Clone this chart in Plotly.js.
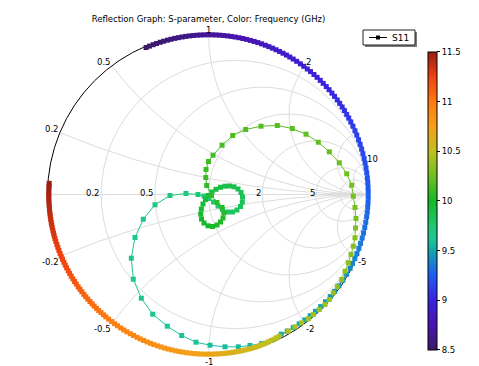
<!DOCTYPE html>
<html><head><meta charset="utf-8">
<script src="https://cdn.plot.ly/plotly-3.0.1.min.js"></script>
<style>html,body{margin:0;padding:0;background:#fff}#chart{width:479px;height:366px}</style>
</head><body><div id="chart"></div>
<script>
// ---- Data: S11 reflection coefficient vs frequency (GHz) ----
// Edge segment A: magnitude / phase (deg)
const freqA=[8.5,8.51,8.52,8.53,8.54,8.55,8.56,8.57,8.58,8.59,8.6,8.61,8.62,8.63,8.64,8.65,8.66,8.67,8.68,8.69,8.7,8.71,8.72,8.73,8.74,8.75,8.76,8.77,8.78,8.79,8.8,8.81,8.82,8.83,8.84,8.85,8.86,8.87,8.88,8.89,8.9,8.91,8.92,8.93,8.94,8.95,8.96,8.97,8.98,8.99,9.0,9.01,9.02,9.03,9.04,9.05,9.06,9.07,9.08,9.09,9.1,9.11,9.12,9.13,9.14,9.15,9.16,9.17,9.18,9.19,9.2,9.21,9.22,9.23,9.24,9.25,9.26,9.27,9.28,9.29,9.3,9.31,9.32,9.33,9.34,9.35,9.36,9.37,9.38,9.39,9.4,9.41,9.42,9.43,9.44,9.45,9.46,9.47,9.48,9.49,9.5,9.51,9.52,9.53,9.54];
const magA=[0.992,0.992,0.992,0.992,0.992,0.992,0.992,0.992,0.992,0.992,0.992,0.992,0.992,0.992,0.992,0.992,0.992,0.992,0.992,0.992,0.992,0.992,0.992,0.992,0.992,0.992,0.992,0.992,0.992,0.992,0.992,0.992,0.992,0.992,0.992,0.992,0.992,0.992,0.992,0.992,0.992,0.992,0.992,0.992,0.992,0.992,0.992,0.992,0.992,0.992,0.992,0.992,0.992,0.992,0.992,0.992,0.992,0.992,0.992,0.992,0.992,0.992,0.992,0.992,0.992,0.992,0.992,0.992,0.992,0.992,0.992,0.992,0.992,0.992,0.992,0.992,0.992,0.992,0.992,0.992,0.992,0.992,0.992,0.992,0.992,0.992,0.992,0.992,0.992,0.992,0.992,0.991,0.990,0.989,0.988,0.987,0.986,0.985,0.984,0.983,0.982,0.981,0.980,0.979,0.978];
const phaseA=[113.0,111.7,110.3,109.0,107.6,106.3,104.9,103.6,102.2,100.9,99.5,98.2,96.8,95.5,94.1,92.8,91.4,90.1,88.7,87.4,86.0,84.6,83.2,81.8,80.4,79.0,77.6,76.2,74.8,73.4,72.0,70.6,69.2,67.8,66.4,65.0,63.6,62.2,60.8,59.4,58.0,56.5,54.9,53.4,51.8,50.3,48.7,47.2,45.6,44.1,42.5,41.0,39.4,37.9,36.3,34.8,33.2,31.7,30.1,28.6,27.0,25.3,23.5,21.8,20.0,18.3,16.5,14.8,13.0,11.3,9.5,7.8,6.0,4.3,2.5,0.8,-1.0,-2.8,-4.5,-6.3,-8.0,-10.0,-11.9,-13.9,-15.8,-17.8,-19.7,-21.7,-23.6,-25.6,-27.5,-30.0,-32.5,-35.0,-37.5,-40.0,-42.5,-45.0,-47.5,-50.0,-52.5,-55.0,-57.5,-60.0,-62.5];
// Inner segment B: real / imaginary part of S11
const freqB=[9.55,9.56,9.57,9.58,9.59,9.6,9.61,9.62,9.63,9.64,9.65,9.66,9.67,9.68,9.69,9.7,9.71,9.72,9.73];
const reB=[0.3925,0.3304,0.2578,0.1851,0.1025,0.0093,-0.0776,-0.1665,-0.2559,-0.3466,-0.4174,-0.4671,-0.4795,-0.4565,-0.4050,-0.3323,-0.2391,-0.1398,-0.0652];
const imB=[-0.9068,-0.9255,-0.9379,-0.9460,-0.9460,-0.9360,-0.9174,-0.8758,-0.8180,-0.7435,-0.6441,-0.5261,-0.3957,-0.2671,-0.1534,-0.0640,-0.0062,0.0062,0.0000];
// Resonance loop
const freqLoop=[9.74,9.75,9.76,9.77,9.78,9.79,9.8,9.81,9.82,9.83,9.84,9.85,9.86,9.87,9.88,9.89,9.9,9.91,9.92,9.93,9.94,9.95,9.96,9.97,9.98,9.99,10.0,10.01,10.02,10.03,10.04,10.05,10.06,10.07,10.08];
const reLoop=[-0.0280,0.0031,0.0311,0.0590,0.0870,0.1180,0.1491,0.1770,0.1988,0.2099,0.2112,0.2019,0.1832,0.1584,0.1304,0.1025,0.0745,0.0466,0.0217,0.0000,-0.0186,-0.0342,-0.0447,-0.0484,-0.0435,-0.0280,-0.0031,0.0248,0.0528,0.0745,0.0901,0.0950,0.0839,0.0528,0.0186];
const imLoop=[-0.0093,-0.0248,-0.0466,-0.0714,-0.0932,-0.1087,-0.1087,-0.0963,-0.0745,-0.0466,-0.0155,0.0124,0.0342,0.0478,0.0528,0.0516,0.0447,0.0323,0.0155,-0.0062,-0.0311,-0.0590,-0.0901,-0.1211,-0.1522,-0.1770,-0.1944,-0.1988,-0.1894,-0.1708,-0.1460,-0.1149,-0.0807,-0.0497,-0.0062];
// Inner segment C
const freqC=[10.09,10.1,10.11,10.12,10.13,10.14,10.15,10.16,10.17,10.18,10.19,10.2,10.21,10.22,10.23,10.24,10.25,10.26,10.27,10.28,10.29,10.3,10.31,10.32,10.33,10.34,10.35,10.36,10.37,10.38,10.39,10.4,10.41,10.42,10.43,10.44,10.45];
const reC=[-0.0112,-0.0168,-0.0155,0.0000,0.0280,0.0839,0.1503,0.2311,0.3261,0.4273,0.5205,0.6056,0.6820,0.7503,0.8124,0.8584,0.8894,0.8994,0.9099,0.9161,0.9130,0.9099,0.8994,0.8851,0.8683,0.8478,0.8273,0.8000,0.7752,0.7503,0.7236,0.6882,0.6509,0.6199,0.5789,0.5373,0.4957];
const imC=[0.0559,0.1056,0.1553,0.2050,0.2441,0.3062,0.3665,0.4037,0.4242,0.4286,0.4099,0.3745,0.3248,0.2652,0.1969,0.1286,0.0578,-0.0106,-0.0807,-0.1491,-0.2081,-0.2689,-0.3211,-0.3727,-0.4242,-0.4764,-0.5280,-0.5733,-0.6106,-0.6522,-0.6832,-0.7143,-0.7453,-0.7720,-0.7969,-0.8217,-0.8491];
// Edge segment D: magnitude / phase (deg)
const freqD=[10.46,10.47,10.48,10.49,10.5,10.51,10.52,10.53,10.54,10.55,10.56,10.57,10.58,10.59,10.6,10.61,10.62,10.63,10.64,10.65,10.66,10.67,10.68,10.69,10.7,10.71,10.72,10.73,10.74,10.75,10.76,10.77,10.78,10.79,10.8,10.81,10.82,10.83,10.84,10.85,10.86,10.87,10.88,10.89,10.9,10.91,10.92,10.93,10.94,10.95,10.96,10.97,10.98,10.99,11.0,11.01,11.02,11.03,11.04,11.05,11.06,11.07,11.08,11.09,11.1,11.11,11.12,11.13,11.14,11.15,11.16,11.17,11.18,11.19,11.2,11.21,11.22,11.23,11.24,11.25,11.26,11.27,11.28,11.29,11.3,11.31,11.32,11.33,11.34,11.35,11.36,11.37,11.38,11.39,11.4,11.41,11.42,11.43,11.44,11.45,11.46,11.47,11.48,11.49,11.5];
const magD=[0.984,0.985,0.986,0.987,0.988,0.989,0.990,0.991,0.992,0.992,0.992,0.992,0.992,0.992,0.992,0.992,0.992,0.992,0.992,0.992,0.992,0.992,0.992,0.992,0.992,0.992,0.992,0.992,0.992,0.992,0.992,0.992,0.992,0.992,0.992,0.992,0.992,0.992,0.992,0.992,0.992,0.992,0.992,0.992,0.992,0.992,0.992,0.992,0.992,0.992,0.992,0.992,0.992,0.992,0.992,0.992,0.992,0.992,0.992,0.992,0.992,0.992,0.992,0.992,0.992,0.992,0.992,0.992,0.992,0.992,0.992,0.992,0.992,0.992,0.992,0.992,0.992,0.992,0.992,0.992,0.992,0.992,0.992,0.992,0.992,0.992,0.992,0.992,0.992,0.992,0.992,0.992,0.992,0.992,0.992,0.992,0.992,0.992,0.992,0.992,0.992,0.992,0.992,0.992,0.992];
const phaseD=[-63.5,-64.6,-65.7,-66.8,-67.9,-69.0,-70.1,-71.2,-72.3,-73.4,-74.5,-75.6,-76.7,-77.8,-78.9,-80.0,-81.1,-82.2,-83.3,-84.4,-85.5,-86.6,-87.7,-88.8,-89.9,-91.2,-92.6,-93.9,-95.2,-96.6,-97.9,-99.3,-100.6,-101.9,-103.3,-104.6,-105.9,-107.3,-108.6,-110.0,-111.3,-112.6,-114.0,-115.3,-116.6,-118.0,-119.3,-120.7,-122.0,-123.3,-124.7,-126.0,-127.3,-128.7,-130.0,-131.1,-132.3,-133.4,-134.5,-135.7,-136.8,-137.9,-139.1,-140.2,-141.3,-142.5,-143.6,-144.7,-145.9,-147.0,-148.1,-149.3,-150.4,-151.5,-152.7,-153.8,-154.9,-156.1,-157.2,-158.3,-159.5,-160.6,-161.7,-162.9,-164.0,-165.0,-166.0,-167.0,-168.0,-169.0,-170.0,-171.0,-172.0,-173.0,-174.0,-175.0,-176.0,-177.0,-178.0,-179.0,-180.0,-181.0,-182.0,-183.0,-184.0];

const colorTicks=[8.5,9,9.5,10,10.5,11,11.5];
const colorTickText=['8.5','9','9.5','10','10.5','11','11.5'];
const realGrid=[0.2,0.5,1,2,5,10];
const imagGrid=[-10,-5,-2,-1,-0.5,-0.2,0.2,0.5,1,2,5,10];
const realLabelVals=[0.2,0.5,2,5];
const realLabelText=['0.2','0.5','2','5'];
const imagLabelVals=[0.2,0.5,1,2,10,-0.2,-0.5,-1,-2,-5];
const imagLabelText=['0.2','0.5','1','2','10','-0.2','-0.5','-1','-2','-5'];
const seriesName='S11';
const chartTitle='Reflection Graph: S-parameter, Color: Frequency (GHz)';

// ---- Assemble ----
const freq=[], gRe=[], gIm=[];
function addPolar(f,m,p){for(let i=0;i<f.length;i++){const a=p[i]*Math.PI/180;freq.push(f[i]);gRe.push(m[i]*Math.cos(a));gIm.push(m[i]*Math.sin(a));}}
function addCart(f,r,im){for(let i=0;i<f.length;i++){freq.push(f[i]);gRe.push(r[i]);gIm.push(im[i]);}}
addPolar(freqA,magA,phaseA);
addCart(freqB,reB,imB);
addCart(freqLoop,reLoop,imLoop);
addCart(freqC,reC,imC);
addPolar(freqD,magD,phaseD);
// reflection coefficient -> normalized impedance
const zr=[], zi=[];
for(let i=0;i<freq.length;i++){const u=gRe[i],v=gIm[i];const d=(1-u)*(1-u)+v*v;zr.push((1-u*u-v*v)/d);zi.push(2*v/d);}

const cmin=8.5,cmax=11.5;
const cs=[[0,'#3b1a66'],[0.083,'#4814b0'],[0.167,'#3a22e0'],[0.25,'#1e5cf5'],[0.333,'#12a6ac'],[0.375,'#1cc698'],[0.417,'#20c870'],[0.5,'#14b828'],[0.583,'#70c020'],[0.667,'#c0c020'],[0.75,'#f5a018'],[0.833,'#ff7a10'],[0.917,'#f04010'],[1,'#9a1c14']];
function hex(c){return [parseInt(c.substr(1,2),16),parseInt(c.substr(3,2),16),parseInt(c.substr(5,2),16)];}
function colorAt(f){let t=(f-cmin)/(cmax-cmin);t=Math.max(0,Math.min(1,t));for(let k=1;k<cs.length;k++){if(t<=cs[k][0]){const a=hex(cs[k-1][1]),b=hex(cs[k][1]);const s=(t-cs[k-1][0])/(cs[k][0]-cs[k-1][0]);return 'rgb('+a.map((x,j)=>Math.round(x+(b[j]-x)*s)).join(',')+')';}}return cs[cs.length-1][1];}

const traces=[];
for(let i=0;i<freq.length-1;i++){
  traces.push({type:'scattersmith',real:[zr[i],zr[i+1]],imag:[zi[i],zi[i+1]],mode:'lines',line:{color:colorAt((freq[i]+freq[i+1])/2),width:1},showlegend:false,hoverinfo:'skip'});
}
traces.push({type:'scattersmith',real:zr,imag:zi,mode:'markers',name:seriesName,showlegend:false,
  marker:{symbol:'square',size:5,color:freq,colorscale:cs,cmin:cmin,cmax:cmax,line:{width:0},
    colorbar:{x:428/479,xanchor:'left',y:0.451,yanchor:'middle',len:298/366,lenmode:'fraction',thickness:9,xpad:0,ypad:0,
      outlinewidth:1,outlinecolor:'#000',tickvals:colorTicks,ticktext:colorTickText,ticks:'outside',ticklen:3,tickcolor:'#000',
      tickfont:{family:'DejaVu Sans',size:8.5,color:'#000'}}}});

const W=479,H=366;
const px=(x)=>x/W, py=(y)=>1-y/H;
// Smith chart placement (pixels)
const cx=208.5, cy=194.5, R=161;
const labelFont={family:'DejaVu Sans',size:8.5,color:'#000'};
const annotations=[];
// grid labels placed at the grid / boundary intersections
imagLabelVals.forEach((x,i)=>{
  const u=(x*x-1)/(x*x+1), v=2*x/(x*x+1);
  annotations.push({text:imagLabelText[i],xref:'paper',yref:'paper',x:px(cx+R*u),y:py(cy-R*v),
    xanchor:u>0.05?'left':(u<-0.05?'right':'center'),yanchor:v>0?'bottom':'top',yshift:v>0?-2:0,
    showarrow:false,borderpad:0,font:labelFont});
});
realLabelVals.forEach((r,i)=>{
  const u=(r-1)/(r+1);
  annotations.push({text:realLabelText[i],xref:'paper',yref:'paper',x:px(cx+R*u),y:py(cy-2),
    xanchor:'right',yanchor:'middle',showarrow:false,borderpad:0,font:labelFont});
});
// legend key (framed with drop shadow)
const key={x0:363,x1:415,y0:30,y1:45};
const keyY=(key.y0+key.y1)/2;
annotations.push({text:seriesName,xref:'paper',yref:'paper',x:px(390),y:py(keyY),xanchor:'left',yanchor:'middle',showarrow:false,font:{family:'DejaVu Sans',size:9,color:'#000'}});

const layout={
  width:W,height:H,margin:{l:0,r:0,t:0,b:0},
  paper_bgcolor:'#fff',
  font:{family:'DejaVu Sans',size:9,color:'#000'},
  title:{text:chartTitle,font:{family:'DejaVu Sans',size:8.5,color:'#000'},x:px(cx),xanchor:'center',y:py(19),yanchor:'middle'},
  showlegend:false,
  shapes:[
    {type:'rect',xref:'paper',yref:'paper',x0:px(key.x0+2),x1:px(key.x1+2),y0:py(key.y1+2),y1:py(key.y0+2),fillcolor:'#7a7a7a',line:{width:0},layer:'above'},
    {type:'rect',xref:'paper',yref:'paper',x0:px(key.x0),x1:px(key.x1),y0:py(key.y1),y1:py(key.y0),fillcolor:'#fff',line:{color:'#222',width:1},layer:'above'},
    {type:'line',xref:'paper',yref:'paper',x0:px(369),x1:px(387),y0:py(keyY),y1:py(keyY),line:{color:'#000',width:1},layer:'above'},
    {type:'rect',xref:'paper',yref:'paper',x0:px(376),x1:px(380),y0:py(keyY+2),y1:py(keyY-2),fillcolor:'#000',line:{width:0},layer:'above'}
  ],
  annotations:annotations,
  smith:{
    domain:{x:[px(cx-R),px(cx+R)],y:[py(cy+R),py(cy-R)]},
    bgcolor:'#fff',
    realaxis:{tickvals:realGrid,showticklabels:false,gridcolor:'#dcdcdc',gridwidth:1,linecolor:'#dcdcdc',showline:true,ticks:'',layer:'below traces'},
    imaginaryaxis:{tickvals:imagGrid,showticklabels:false,gridcolor:'#dcdcdc',gridwidth:1,linecolor:'#000',linewidth:1,showline:true,ticks:'',layer:'below traces'}
  }
};
Plotly.newPlot('chart',traces,layout,{displayModeBar:false,staticPlot:true});
</script></body></html>
